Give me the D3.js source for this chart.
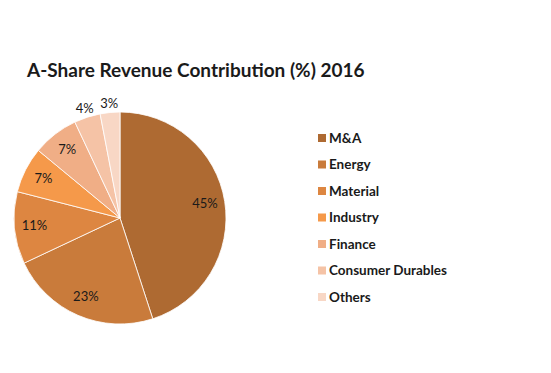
<!DOCTYPE html>
<html>
<head>
<meta charset="utf-8">
<script src="https://cdn.jsdelivr.net/npm/d3@7"></script>
<style>
  body { margin: 0; background: #fff; }
  text { font-family: Lato, "Open Sans", sans-serif; fill: #1a1a1a; }
</style>
</head>
<body>
<div id="chart"></div>
<script>
var categories = ["M&A", "Energy", "Material", "Industry", "Finance", "Consumer Durables", "Others"];
var shares = [45, 23, 11, 7, 7, 4, 3];
var colours = ["#ae6a32", "#c97b3b", "#dd8641", "#f5994a", "#f0ae86", "#f5c3a6", "#f8d7c5"];

var width = 551, height = 373;
var cx = 120, cy = 218, radius = 106;

var svg = d3.select("#chart").append("svg")
  .attr("width", width)
  .attr("height", height);

svg.append("text")
  .attr("x", 27)
  .attr("y", 77)
  .style("font-size", "19px")
  .style("font-weight", "bold")
  .text("A-Share Revenue Contribution (%) 2016");

var rows = categories.map(function (c, i) { return {name: c, value: shares[i], colour: colours[i]}; });

var pie = d3.pie().sort(null).value(function (d) { return d.value; });
var arc = d3.arc().innerRadius(0).outerRadius(radius);
var inLabel = d3.arc().innerRadius(86).outerRadius(86);
var outLabel = d3.arc().innerRadius(radius + 8).outerRadius(radius + 8);

var g = svg.append("g").attr("transform", "translate(" + cx + "," + cy + ")");
var slices = pie(rows);

g.selectAll("path")
  .data(slices)
  .enter()
  .append("path")
  .attr("d", arc)
  .attr("fill", function (d) { return d.data.colour; })
  .attr("stroke", "#fff")
  .attr("stroke-width", 0.8);

g.selectAll(".lbl")
  .data(slices)
  .enter()
  .append("text")
  .attr("class", "lbl")
  .attr("transform", function (d) {
    var p = d.data.value < 5 ? outLabel.centroid(d) : inLabel.centroid(d);
    return "translate(" + p[0] + "," + p[1] + ")";
  })
  .attr("text-anchor", "middle")
  .attr("dy", "0.3em")
  .style("font-size", "13px")
  .text(function (d) { return d.data.value + "%"; });

// legend
var legendY = d3.scalePoint().domain(categories).range([138, 297]);
var legend = svg.append("g");
var item = legend.selectAll("g")
  .data(rows)
  .enter()
  .append("g")
  .attr("transform", function (d) { return "translate(318," + legendY(d.name) + ")"; });

item.append("rect")
  .attr("x", 0)
  .attr("y", -4)
  .attr("width", 8)
  .attr("height", 8)
  .attr("fill", function (d) { return d.colour; });

item.append("text")
  .attr("x", 11)
  .attr("dy", "0.35em")
  .style("font-size", "13.5px")
  .style("font-weight", "bold")
  .text(function (d) { return d.name; });
</script>
</body>
</html>
